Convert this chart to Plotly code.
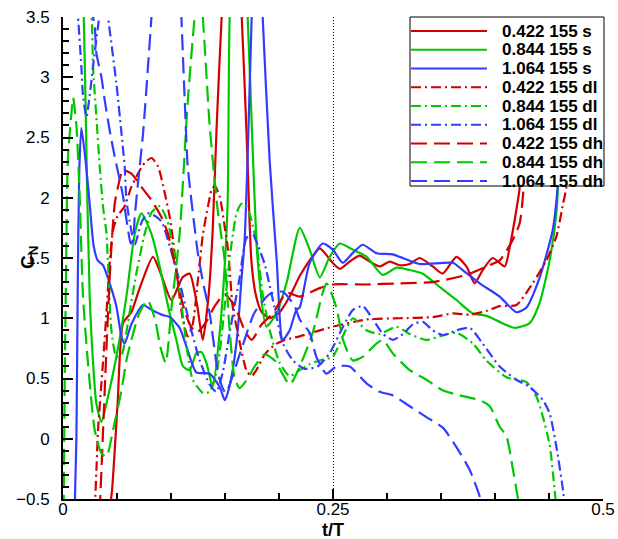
import plotly.graph_objects as go

# Normal-force coefficient C_N versus t/T for three reduced frequencies
# (0.422, 0.844, 1.064) at 155 deg, cases s / dl / dh.

t_0422_s = [0.043, 0.0454, 0.0506, 0.0556, 0.0633, 0.071, 0.0833, 0.0914, 0.1004, 0.1108, 0.1173, 0.1238,
            0.1294, 0.1349, 0.1386, 0.1423, 0.1469, 0.1562, 0.1655, 0.1701, 0.1744, 0.1784, 0.184, 0.1914,
            0.2006, 0.2099, 0.2192, 0.2284, 0.2377, 0.2497, 0.2562, 0.2654, 0.2747, 0.284, 0.2932, 0.3025,
            0.3117, 0.321, 0.3303, 0.3423, 0.3516, 0.3643, 0.3735, 0.3812, 0.3886, 0.3979, 0.409, 0.4136,
            0.4198, 0.4229, 0.4266, 0.4294]
cn_0422_s = [-0.6, -0.43, 0.3, 0.96, 1.05, 1.25, 1.51, 1.35, 1.15, 1.34, 1.37, 1.13,
             0.82, 1.2, 1.73, 2.6, 3.5, 5.0, 3.5, 2.5, 1.48, 1.2, 1.05, 1.0,
             1.05, 1.18, 1.35, 1.48, 1.58, 1.46, 1.41, 1.47, 1.52, 1.47, 1.43, 1.47,
             1.44, 1.45, 1.5, 1.43, 1.37, 1.51, 1.43, 1.29, 1.40, 1.50, 1.43, 1.59,
             1.90, 2.09, 3.0, 3.6]

t_0844_s = [0.0182, 0.0192, 0.022, 0.0247, 0.0275, 0.0309, 0.0356, 0.0417, 0.0494, 0.0587, 0.0664, 0.0726,
            0.0819, 0.0895, 0.0988, 0.105, 0.1111, 0.1173, 0.1235, 0.1281, 0.1328, 0.1386, 0.1451, 0.1497,
            0.1525, 0.1543, 0.1618, 0.171, 0.1756, 0.1803, 0.1883, 0.1976, 0.2069, 0.2192, 0.2284, 0.2377,
            0.247, 0.2562, 0.2682, 0.2812, 0.296, 0.309, 0.321, 0.3331, 0.3488, 0.3645, 0.3794, 0.3923,
            0.4043, 0.4182, 0.4321, 0.4414, 0.4506, 0.4571, 0.4618, 0.4636]
cn_0844_s = [3.6, 3.5, 2.23, 1.18, 0.68, 0.29, 0.14, 0.35, 0.68, 1.18, 1.7, 1.87,
             1.7, 1.43, 1.04, 0.82, 0.60, 0.57, 0.71, 0.72, 0.63, 0.43, 0.88, 1.43,
             1.98, 3.5, 5.0, 3.5, 2.4, 1.48, 0.93, 1.04, 1.29, 1.75, 1.57, 1.34,
             1.51, 1.62, 1.57, 1.51, 1.36, 1.42, 1.40, 1.37, 1.26, 1.15, 1.04, 1.02,
             0.97, 0.92, 0.96, 1.13, 1.48, 1.9, 3.0, 3.6]

t_1064_s = [0.0108, 0.0124, 0.0136, 0.015, 0.017, 0.021, 0.0247, 0.0284, 0.0321, 0.037, 0.0432, 0.0494,
            0.0541, 0.0571, 0.0633, 0.0741, 0.0819, 0.0911, 0.0988, 0.108, 0.1145, 0.1235, 0.1358, 0.1451,
            0.1497, 0.1525, 0.1571, 0.1618, 0.1652, 0.1682, 0.1715, 0.1747, 0.1794, 0.1849, 0.1914, 0.1979,
            0.2034, 0.2099, 0.2161, 0.2192, 0.2284, 0.2405, 0.2497, 0.259, 0.2682, 0.2775, 0.2904, 0.3053,
            0.3303, 0.3608, 0.3701, 0.3858, 0.4043, 0.4198, 0.4291, 0.4414, 0.4534, 0.458, 0.4627, 0.4655]
cn_1064_s = [-0.6, 0.0, 1.2, 2.2, 2.58, 2.3, 1.95, 1.6, 1.48, 1.44, 1.29, 1.10,
             0.85, 0.79, 0.95, 1.11, 1.07, 1.03, 1.01, 0.92, 0.76, 0.55, 0.54, 0.43,
             0.32, 0.38, 0.57, 0.9, 1.32, 1.65, 2.5, 3.5, 4.6, 3.5, 2.3, 1.48,
             0.82, 0.9, 1.07, 1.09, 1.46, 1.62, 1.57, 1.46, 1.54, 1.61, 1.54, 1.53,
             1.45, 1.46, 1.40, 1.29, 1.18, 1.05, 1.09, 1.34, 1.73, 2.09, 3.0, 3.6]

t_0422_dl = [0.0294, 0.0312, 0.0324, 0.037, 0.0402, 0.0432, 0.0463, 0.0506, 0.0571, 0.0633, 0.0694, 0.0756,
             0.0819, 0.088, 0.0942, 0.0988, 0.1019, 0.1062, 0.1108, 0.1155, 0.1201, 0.1247, 0.1296, 0.1343,
             0.1374, 0.1405, 0.1451, 0.1497, 0.1528, 0.1571, 0.1636, 0.1698, 0.1744, 0.1791, 0.1868, 0.196,
             0.2053, 0.2192, 0.2497, 0.2812, 0.3117, 0.3423, 0.3608, 0.3766, 0.392, 0.4043, 0.4198, 0.4349,
             0.4476, 0.4569, 0.463, 0.4661, 0.471, 0.4738]
cn_0422_dl = [-0.6, -0.2, 0.07, 0.63, 1.04, 1.46, 1.73, 1.85, 1.93, 2.09, 2.2, 2.29,
              2.33, 2.26, 2.04, 1.84, 1.65, 1.3, 1.0, 0.85, 0.95, 1.3, 1.70, 1.93,
              2.06, 2.10, 2.01, 1.76, 1.57, 1.1, 0.8, 0.57, 0.52, 0.57, 0.7, 0.78,
              0.82, 0.85, 0.93, 0.99, 1.0, 1.01, 1.04, 1.03, 1.06, 1.10, 1.11, 1.29,
              1.48, 1.68, 1.95, 2.09, 3.0, 3.6]

t_0844_dl = [0.0229, 0.0263, 0.0278, 0.0309, 0.034, 0.037, 0.0402, 0.0417, 0.0448, 0.0494, 0.0544, 0.0599,
             0.0664, 0.0756, 0.0821, 0.0895, 0.0969, 0.1034, 0.1099, 0.1155, 0.1201, 0.1296, 0.1358, 0.1432,
             0.1497, 0.1543, 0.1574, 0.1606, 0.1652, 0.1698, 0.1744, 0.1791, 0.1849, 0.1914, 0.2006, 0.2099,
             0.2161, 0.2284, 0.2377, 0.2497, 0.259, 0.2685, 0.2809, 0.2932, 0.3087, 0.321, 0.3365, 0.3488,
             0.3643, 0.3796, 0.392, 0.4106, 0.4291, 0.4383, 0.4444, 0.4506, 0.4553, 0.4571]
cn_0844_dl = [3.6, 3.5, 3.09, 2.67, 2.26, 1.93, 1.71, 1.45, 0.9, 0.68, 0.7, 0.95,
              1.3, 1.7, 1.88, 1.93, 1.8, 1.5, 1.1, 0.7, 0.49, 0.38, 0.39, 0.6,
              1.1, 1.5, 1.70, 1.87, 1.95, 1.93, 1.82, 1.62, 1.2, 0.9, 0.63, 0.52,
              0.55, 0.62, 0.65, 0.68, 0.85, 1.0, 0.9, 0.87, 0.93, 0.87, 0.82, 0.85,
              0.88, 0.79, 0.65, 0.51, 0.47, 0.35, 0.18, -0.05, -0.43, -0.6]

t_1064_dl = [0.0127, 0.0139, 0.017, 0.0185, 0.0217, 0.0247, 0.0278, 0.0324, 0.0349, 0.0377, 0.0405, 0.0417,
             0.0494, 0.0541, 0.0571, 0.0587, 0.0618, 0.0664, 0.0729, 0.0784, 0.0849, 0.0914, 0.0988, 0.108,
             0.1173, 0.1266, 0.1358, 0.142, 0.1479, 0.1543, 0.1636, 0.1692, 0.1744, 0.1806, 0.1867, 0.1944,
             0.2037, 0.213, 0.2238, 0.2358, 0.2469, 0.2593, 0.2685, 0.2778, 0.287, 0.2963, 0.3056, 0.3148,
             0.3241, 0.3333, 0.3423, 0.3516, 0.3643, 0.3766, 0.3886, 0.4043, 0.4198, 0.4321, 0.4444, 0.4506,
             0.4569, 0.463, 0.4645]
cn_1064_dl = [3.6, 3.5, 3.09, 2.85, 2.67, 2.85, 3.09, 3.42, 3.6, 3.9, 3.6, 3.5,
              2.95, 2.54, 2.26, 1.98, 1.8, 1.61, 1.8, 1.87, 1.85, 1.8, 1.6, 1.3,
              0.95, 0.65, 0.45, 0.39, 0.55, 0.88, 1.34, 1.65, 1.72, 1.6, 1.45, 1.15,
              0.79, 0.65, 0.58, 0.6, 0.71, 0.93, 1.07, 1.10, 0.99, 0.87, 0.82, 0.87,
              0.95, 0.97, 0.90, 0.86, 0.90, 0.92, 0.79, 0.60, 0.49, 0.43, 0.32, 0.21,
              -0.07, -0.43, -0.6]

t_0422_dh = [0.034, 0.0368, 0.0405, 0.0442, 0.0479, 0.0509, 0.0556, 0.0633, 0.0726, 0.0819, 0.0911, 0.0972,
             0.1034, 0.1099, 0.1173, 0.1238, 0.1312, 0.1405, 0.1497, 0.159, 0.1682, 0.1747, 0.184, 0.1942,
             0.2071, 0.2192, 0.2377, 0.2497, 0.2812, 0.3117, 0.3423, 0.3735, 0.392, 0.4043, 0.4164, 0.4229,
             0.4284, 0.4321, 0.4349]
cn_0422_dh = [-0.6, 0.0, 0.8, 1.5, 1.95, 2.09, 2.23, 2.2, 2.09, 1.98, 1.84, 1.70,
              1.45, 1.15, 0.95, 0.88, 0.95, 1.1, 1.2, 1.1, 0.9, 0.82, 0.95, 1.04,
              1.21, 1.18, 1.25, 1.28, 1.28, 1.29, 1.30, 1.36, 1.43, 1.48, 1.65, 1.79,
              2.3, 3.0, 3.6]

t_0844_dh = [0.0006, 0.0016, 0.003, 0.0044, 0.0078, 0.0094, 0.0124, 0.0155, 0.0185, 0.0231, 0.0294, 0.0356,
             0.0402, 0.0463, 0.0541, 0.0587, 0.0633, 0.071, 0.0784, 0.0849, 0.0905, 0.0951, 0.1006, 0.108,
             0.1155, 0.1219, 0.1257, 0.1294, 0.1358, 0.1432, 0.1497, 0.1543, 0.159, 0.1636, 0.171, 0.1775,
             0.1867, 0.196, 0.2099, 0.2192, 0.2312, 0.2404, 0.2441, 0.2531, 0.2593, 0.2682, 0.2775, 0.2902,
             0.296, 0.3053, 0.321, 0.3365, 0.3519, 0.3673, 0.3858, 0.3951, 0.4043, 0.4106, 0.4167, 0.4213,
             0.4229]
cn_0844_dh = [-0.6, 0.5, 1.5, 2.3, 2.7, 2.83, 2.6, 2.0, 1.18, 0.63, 0.07, -0.12,
              -0.15, 0.07, 0.40, 0.65, 0.82, 1.05, 1.15, 1.0, 0.75, 0.63, 1.1, 1.7,
              2.8, 3.5, 3.8, 3.5, 2.6, 1.9, 1.48, 0.9, 0.5, 0.42, 0.5, 0.6,
              0.7, 0.65, 0.45, 0.6, 0.88, 1.21, 1.29, 1.09, 0.82, 0.65, 0.68, 0.79,
              0.82, 0.71, 0.57, 0.49, 0.40, 0.36, 0.32, 0.27, 0.1, 0.02, -0.26, -0.5,
              -0.6]

t_1064_dh = [0.0256, 0.0294, 0.0309, 0.0356, 0.0386, 0.0432, 0.0479, 0.0525, 0.0556, 0.0599, 0.0627, 0.0648,
             0.0664, 0.0694, 0.0741, 0.0787, 0.0819, 0.0895, 0.0988, 0.1062, 0.1096, 0.1127, 0.1155, 0.1219,
             0.1247, 0.1296, 0.1358, 0.142, 0.1451, 0.1506, 0.1636, 0.1775, 0.1914, 0.2034, 0.2145, 0.2192,
             0.2284, 0.2346, 0.2439, 0.2531, 0.2654, 0.2809, 0.2932, 0.3053, 0.321, 0.3365, 0.3519, 0.3643,
             0.3766, 0.3858, 0.3877]
cn_1064_dh = [3.6, 3.42, 3.2, 3.0, 2.81, 2.56, 2.34, 2.15, 2.01, 1.75, 1.62, 1.65,
              1.84, 2.12, 2.53, 3.09, 3.5, 4.6, 5.0, 4.2, 3.5, 2.81, 2.26, 1.75,
              1.55, 1.3, 1.04, 0.63, 0.49, 0.38, 0.7, 1.05, 1.2, 1.22, 1.1, 0.99,
              0.88, 0.68, 0.54, 0.6, 0.6, 0.46, 0.39, 0.36, 0.27, 0.18, 0.09, -0.07,
              -0.26, -0.48, -0.6]

series = [
    ("0.422 155 s", t_0422_s, cn_0422_s, "red", "solid"),
    ("0.844 155 s", t_0844_s, cn_0844_s, "green", "solid"),
    ("1.064 155 s", t_1064_s, cn_1064_s, "blue", "solid"),
    ("0.422 155 dl", t_0422_dl, cn_0422_dl, "red", "dashdot"),
    ("0.844 155 dl", t_0844_dl, cn_0844_dl, "green", "dashdot"),
    ("1.064 155 dl", t_1064_dl, cn_1064_dl, "blue", "dashdot"),
    ("0.422 155 dh", t_0422_dh, cn_0422_dh, "red", "dash"),
    ("0.844 155 dh", t_0844_dh, cn_0844_dh, "green", "dash"),
    ("1.064 155 dh", t_1064_dh, cn_1064_dh, "blue", "dash"),
]

COLORS = {"red": "rgb(210,0,0)", "green": "rgb(0,200,0)", "blue": "rgb(50,60,255)"}
DASHES = {"solid": "solid", "dashdot": "10px,4px,2px,4px", "dash": "16px,7px"}
LW = 2.2
FONT = "Liberation Sans, Arial, sans-serif"

W, H = 618, 539
ML, MR, MT, MB = 63, 15, 17, 40
PW, PH = W - ML - MR, H - MT - MB

fig = go.Figure()
for name, t, cn, col, dash in series:
    assert len(t) == len(cn), name
    fig.add_trace(go.Scatter(
        x=t, y=cn, mode="lines", name=name, showlegend=False,
        line=dict(color=COLORS[col], width=LW, dash=DASHES[dash], shape="spline", smoothing=0.6),
    ))


def px_x(p):
    return (p - ML) / PW


def px_y(p):
    return (H - MB - p) / PH


# Boxed legend in the upper right corner of the plot area
shapes = [dict(type="rect", xref="paper", yref="paper",
               x0=px_x(410), x1=px_x(604), y0=px_y(186), y1=px_y(17),
               line=dict(color="black", width=1), fillcolor="white", layer="above")]
annotations = []
for i, (name, t, cn, col, dash) in enumerate(series):
    yy = px_y(31 + 18.75 * i)
    shapes.append(dict(type="line", xref="paper", yref="paper",
                       x0=px_x(411), x1=px_x(487), y0=yy, y1=yy, layer="above",
                       line=dict(color=COLORS[col], width=LW, dash=DASHES[dash])))
    annotations.append(dict(xref="paper", yref="paper", x=px_x(500), y=yy,
                            xanchor="left", yanchor="middle", showarrow=False,
                            text="<b>%s</b>" % name,
                            font=dict(family=FONT, size=17, color="black")))

# Axis titles
annotations.append(dict(xref="paper", yref="paper", x=px_x(333), y=px_y(530),
                        xanchor="center", yanchor="middle", showarrow=False,
                        text="<b>t/T</b>", font=dict(family=FONT, size=18, color="black")))
annotations.append(dict(xref="paper", yref="paper", x=px_x(29), y=px_y(258),
                        xanchor="center", yanchor="middle", showarrow=False, textangle=-90,
                        text="<b>C<sub>N</sub></b>", font=dict(family=FONT, size=19, color="black")))

fig.update_layout(
    width=W, height=H,
    margin=dict(l=ML, r=MR, t=MT, b=MB, pad=0),
    paper_bgcolor="white", plot_bgcolor="white",
    font=dict(family=FONT, size=17, color="black"),
    shapes=shapes, annotations=annotations,
    xaxis=dict(
        range=[0, 0.5], tickvals=[0, 0.25, 0.5], ticktext=["0", "0.25", "0.5"],
        ticks="inside", ticklen=10, tickwidth=2, tickcolor="black",
        showline=True, linecolor="black", linewidth=2,
        showgrid=True, gridcolor="black", gridwidth=1, griddash="1px,2px",
        zeroline=False, automargin=False, ticklabelstandoff=-6,
        minor=dict(dtick=0.05, tick0=0, ticks="inside", ticklen=6, tickwidth=1.5,
                   tickcolor="black", showgrid=False),
    ),
    yaxis=dict(
        range=[-0.5, 3.5], dtick=0.5, tick0=0,
        ticks="inside", ticklen=10, tickwidth=2, tickcolor="black",
        showline=True, linecolor="black", linewidth=2,
        showgrid=False, zeroline=False, automargin=False, ticklabelstandoff=8,
        minor=dict(dtick=0.1, tick0=0, ticks="inside", ticklen=6, tickwidth=1.5,
                   tickcolor="black", showgrid=False),
    ),
)

fig.write_html("out.html")
